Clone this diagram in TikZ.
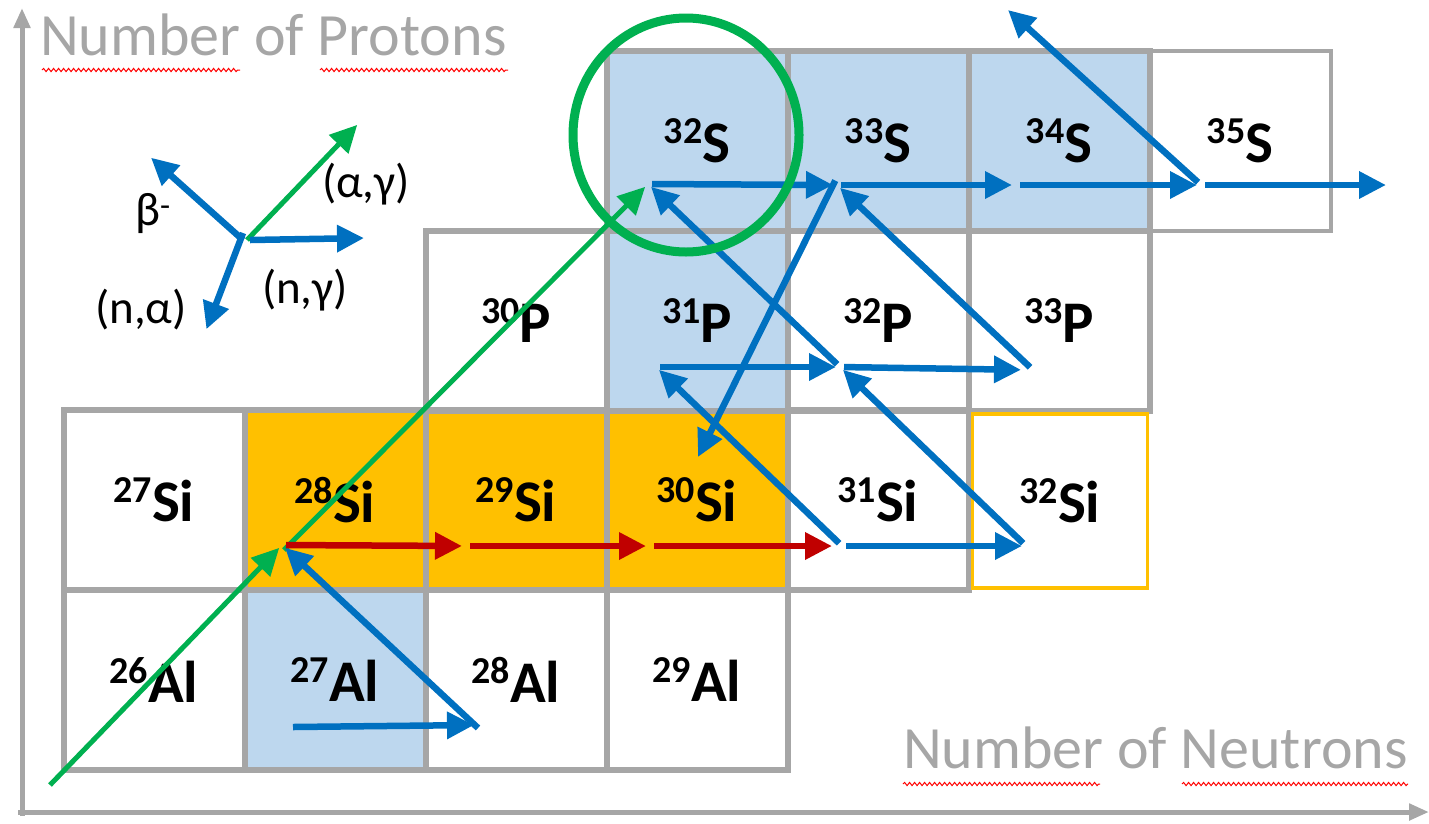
\documentclass[tikz,border=0pt]{standalone}
\usepackage{fontspec}
\setmainfont{Carlito}
\usetikzlibrary{arrows.meta,decorations.pathmorphing,shapes.geometric}
\definecolor{cellgray}{HTML}{A6A6A6}
\definecolor{cblue}{HTML}{BDD7EE}
\definecolor{corange}{HTML}{FFC000}
\definecolor{ablue}{HTML}{0070C0}
\definecolor{ared}{HTML}{C00000}
\definecolor{agreen}{HTML}{00B050}
\definecolor{axgray}{HTML}{A6A6A6}
\newcommand{\iso}[2]{{\fontsize{38}{38}\selectfont\raisebox{19pt}{#1}}#2}
\begin{document}
\begin{tikzpicture}[x=1pt,y=-1pt,
  cell/.style={draw=cellgray,line width=6pt,minimum width=181pt,minimum height=180pt,
    inner sep=0pt,outer sep=0pt,font=\fontsize{59}{59}\selectfont\bfseries,text=black},
  bluefill/.style={fill=cblue},
  orfill/.style={fill=corange},
  tipstyle/.style={-{Triangle[length=27pt,width=26pt]}},
  bl/.style={ablue,line width=6.5pt,tipstyle,shorten >=4pt,shorten <=4pt},
  rd/.style={ared,line width=6.5pt,tipstyle,shorten >=4pt,shorten <=4pt},
  gr/.style={agreen,line width=5pt,tipstyle,shorten >=4pt},
  axis/.style={axgray,line width=5pt,-{Triangle[length=20pt,width=16pt]}},
  axlabel/.style={anchor=base west,text=axgray,font=\fontsize{60}{60}\selectfont,inner sep=0pt},
  leg/.style={font=\fontsize{47}{47}\selectfont,text=black,inner sep=0pt},
  squig/.style={red,line width=1pt,decorate,decoration={snake,amplitude=1.6pt,segment length=5pt}}
]
\useasboundingbox (0,0) rectangle (1429,823);

% axes
\coordinate (o1) at (22,816);
\coordinate (ytop) at (22,8);
\coordinate (o2) at (18,812);
\coordinate (xend) at (1429,812);
\draw[axis] (o1) -- (ytop);
\draw[axis] (o2) -- (xend);
\node[axlabel] (ylab) at (40,55) {Number of Protons};
\node[axlabel] (xlab) at (903,768) {Number of Neutrons};
\coordinate (sq1a) at (42,70); \coordinate (sq1b) at (240,70);
\coordinate (sq2a) at (320,70); \coordinate (sq2b) at (508,70);
\coordinate (sq3a) at (903,784); \coordinate (sq3b) at (1100,784);
\coordinate (sq4a) at (1182,784); \coordinate (sq4b) at (1408,784);
\draw[squig] (sq1a) -- (sq1b);
\draw[squig] (sq2a) -- (sq2b);
\draw[squig] (sq3a) -- (sq3b);
\draw[squig] (sq4a) -- (sq4b);

% cells: Al row
\node[cell] (Al26) at (154,680) {\iso{26}{Al}};
\node[cell,bluefill] (Al27) at (335,680) {\iso{27}{Al}};
\node[cell] (Al28) at (516,680) {\iso{28}{Al}};
\node[cell] (Al29) at (697,680) {\iso{29}{Al}};
% Si row
\node[cell] (Si27) at (154,500) {\iso{27}{Si}};
\node[cell,orfill] (Si28) at (335,500) {\iso{28}{Si}};
\node[cell,orfill] (Si29) at (516,500) {\iso{29}{Si}};
\node[cell,orfill] (Si30) at (697,500) {\iso{30}{Si}};
\node[cell] (Si31) at (878,500) {\iso{31}{Si}};
% P row
\node[cell] (P30) at (516,321) {\iso{30}{P}};
\node[cell,bluefill] (P31) at (697,321) {\iso{31}{P}};
\node[cell] (P32) at (878,321) {\iso{32}{P}};
\node[cell] (P33) at (1059,321) {\iso{33}{P}};
% S row
\node[cell,bluefill] (S32) at (697,141) {\iso{32}{S}};
\node[cell,bluefill] (S33) at (878,141) {\iso{33}{S}};
\node[cell,bluefill] (S34) at (1059,141) {\iso{34}{S}};
\node[cell,line width=4pt] (S35) at (1240,141) {\iso{35}{S}};
% 32Si with orange border
\node[cell,draw=corange,line width=3.5pt,minimum width=175pt,minimum height=174pt] (Si32) at (1060,501) {\iso{32}{Si}};

% legend
\coordinate (L) at (243,240);
\coordinate (Lb) at (148,155);
\coordinate (La) at (360,122);
\coordinate (Ln) at (368,238);
\coordinate (Lna) at (205,333);
\draw[bl,shorten <=0pt] (L) -- (Lb);
\draw[gr] ([xshift=4pt]L) -- (La);
\draw[bl,shorten <=0pt] ([xshift=7pt]L) -- (Ln);
\draw[bl,shorten <=0pt] ([yshift=7pt]L) -- (Lna);
\node[leg] (tb) at (153,214) {β\textsuperscript{-}};
\node[leg] (tag) at (366,184) {(α,γ)};
\node[leg] (tng) at (305,290) {(n,γ)};
\node[leg] (tna) at (141,310) {(n,α)};

% pivot coordinates
\coordinate (a27) at (293,727);
\coordinate (a28) at (478,725);
\coordinate (green0) at (50,785);
\coordinate (si28) at (282,545);
\coordinate (si29) at (466,546);
\coordinate (si30) at (650,546);
\coordinate (si31) at (842,546);
\coordinate (si32) at (1026,546);
\coordinate (si30n) at (698,457);
\coordinate (p31) at (656,367);
\coordinate (p32) at (840,367);
\coordinate (p33) at (1033,370);
\coordinate (s32) at (648,184);
\coordinate (s33) at (837,185);
\coordinate (s34) at (1016,185);
\coordinate (s35) at (1201,185);
\coordinate (s36) at (1386,185);
\coordinate (s35up) at (1008,10);

% reactions
\draw[gr] (green0) -- (si28);
\draw[gr] ([shift={(2pt,-5pt)}]si28) -- (s32);
\draw[bl,shorten <=0pt] (a27) -- (a28);
\draw[bl,shorten <=0pt] ([yshift=-3pt]a28) -- (si28);
\draw[rd] (si28) -- (si29);
\draw[rd] (si29) -- (si30);
\draw[rd,shorten >=10pt] (si30) -- (si31);
\draw[bl] (si31) -- (si32);
\draw[bl] (si31) -- (p31);
\draw[bl] (si32) -- (p32);
\draw[bl] (p31) -- (p32);
\draw[bl,shorten >=12pt] (p32) -- (p33);
\draw[bl] (p32) -- (s32);
\draw[bl] (p33) -- (s33);
\draw[bl] (s32) -- (s33);
\draw[bl] (s33) -- (s34);
\draw[bl] (s34) -- (s35);
\draw[bl,shorten >=0pt] (s35) -- (s36);
\draw[bl,shorten >=0pt] (s35) -- (s35up);
\draw[bl,shorten >=0pt] ([yshift=8pt]s33) -- (si30n);

% highlight ring
\node[draw=agreen,line width=9pt,ellipse,minimum width=226pt,minimum height=234pt,inner sep=0pt] (ring) at (686,135) {};
\end{tikzpicture}
\end{document}
